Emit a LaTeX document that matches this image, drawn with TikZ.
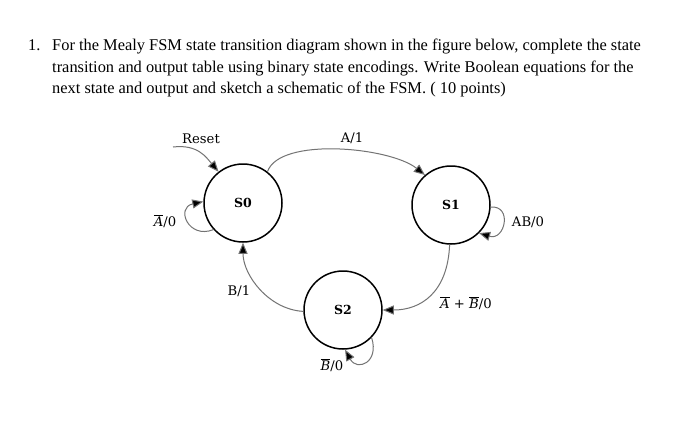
\documentclass[tikz,border=0pt]{standalone}
\usepackage{fontspec}
\setmainfont{Liberation Serif}
\newfontfamily\lblfont{DejaVu Serif}
\usetikzlibrary{arrows.meta}
\begin{document}
\begin{tikzpicture}[x=1pt,y=-1pt,
  state/.style={circle,draw=black,line width=1.5pt,minimum size=78pt,inner sep=0pt,font=\lblfont\bfseries\fontsize{12.5}{14}\selectfont},
  conn/.style={draw=black!55,line width=1pt,-{Triangle[length=11pt,width=9pt,fill=black]}},
  lbl/.style={font=\lblfont\fontsize{13.2}{15}\selectfont,inner sep=0pt},
  ttl/.style={anchor=base west,inner sep=0pt,font=\fontsize{16.4}{19}\selectfont}]
\useasboundingbox (0,0) rectangle (700,429);
\fill[white] (0,0) rectangle (700,429);
% title
\node[ttl] (num) at (28,50) {1.};
\node[ttl] (l1) at (52,50) {For the Mealy FSM state transition diagram shown in the figure below, complete the state};
\node[ttl] (l2) at (52,72) {transition and output table using binary state encodings. Write Boolean equations for the};
\node[ttl] (l3) at (52,93) {next state and output and sketch a schematic of the FSM. ( 10 points)};
% states
\node[state] (s0) at (243,203) {S0};
\node[state] (s1) at (451,205) {S1};
\node[state] (s2) at (343,310) {S2};
% reset
\coordinate (rs) at (173,147);
\draw[conn] (rs) .. controls +(25,-3) and +(-12,-14) .. (s0.128);
\node[lbl] (reset) at (201,139) {Reset};
% A/1
\draw[conn] (s0.52) .. controls +(12,-35) and +(-35,-28) .. (s1.131);
\node[lbl] (a1) at (352,138) {A/1};
% S0 self loop
\draw[conn] (s0.222) .. controls +(-25,10) and +(-28,6) .. (s0.178);
\node[lbl] (na0) at (165,221) {$\overline{\mbox{\lblfont\itshape A}}$/0};
% S1 self loop
\draw[conn] (s1.357) .. controls +(22,-2) and +(26,8) .. (s1.315);
\node[lbl] (ab0) at (528,222) {AB/0};
% S1 -> S2
\draw[conn] (s1.268) .. controls +(-2,48) and +(38,0) .. (s2.0);
\node[lbl] (nanb) at (466,303) {$\overline{\mbox{\lblfont\itshape A}}$ + $\overline{\mbox{\lblfont\itshape B}}$/0};
% S2 -> S0
\draw[conn] (s2.182) .. controls +(-35,-2) and +(0,32) .. (s0.270);
\node[lbl] (b1) at (239,291) {B/1};
% S2 self loop
\draw[conn] (s2.316) .. controls +(8,25) and +(12,22) .. (s2.273);
\node[lbl] (nb0) at (332,365) {$\overline{\mbox{\lblfont\itshape B}}$/0};
\end{tikzpicture}
\end{document}
